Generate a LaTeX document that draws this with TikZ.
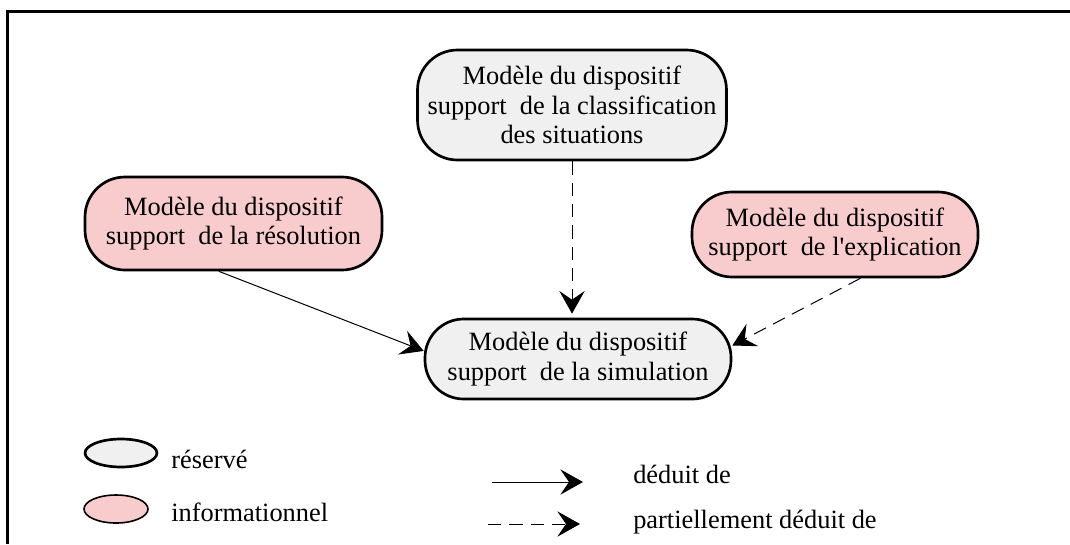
\documentclass[tikz,border=0pt]{standalone}
\usepackage{fontspec}
\setmainfont{Liberation Serif}
\usetikzlibrary{arrows.meta,shapes.geometric}
\definecolor{resgray}{RGB}{240,240,240}
\definecolor{infpink}{RGB}{248,204,204}
\newcommand{\nodefont}{\fontsize{19.8pt}{22pt}\selectfont}
\tikzset{
  box/.style={draw, line width=2pt, rounded corners=30pt, align=center, inner sep=0pt, font=\nodefont},
  resbox/.style={box, fill=resgray},
  infbox/.style={box, fill=infpink},
  arr/.style={-{Stealth[length=17pt,width=19pt,inset=6.5pt]}, line width=0.75pt},
  dasharr/.style={arr, dash pattern=on 10pt off 6pt},
  legtext/.style={anchor=base west, inner sep=0pt, font=\nodefont},
  legell/.style={ellipse, draw, inner sep=0pt}
}
\begin{document}
\begin{tikzpicture}[x=0.75pt,y=-0.75pt]
\useasboundingbox (0,0) rectangle (1070,544);
\draw[line width=2.25pt] (7,544) -- (7,11) -- (1070,11);

\node[resbox, minimum width=231.75pt, minimum height=82.5pt] (top) at (572,105)
  {Modèle du dispositif\\support~ de la classification\\des situations};
\node[infbox, minimum width=222.75pt, minimum height=69.75pt] (left) at (233.5,223.5)
  {Modèle du dispositif\\support~ de la résolution};
\node[infbox, minimum width=214.5pt, minimum height=63.75pt] (right) at (835,234.5)
  {Modèle du dispositif\\support~ de l\textquotesingle explication};
\node[resbox, rounded corners=29pt, minimum width=229.5pt, minimum height=60pt] (bot) at (578,359)
  {Modèle du dispositif\\support~ de la simulation};

\draw[arr] (left.253) -- (bot.177);
\draw[dasharr, shorten >=3pt] (top.south) -- (top.south |- bot.north);
\draw[dasharr] (right.300) -- (bot.5);

\node[legell, line width=2pt, fill=resgray, minimum width=54pt, minimum height=21pt] (lres) at (121,453) {};
\node[legell, line width=1.2pt, fill=infpink, minimum width=48pt, minimum height=21pt] (linf) at (116,509) {};
\node[legtext] (tres) at (171,468) {réservé};
\node[legtext] (tinf) at (171,521) {informationnel};

\coordinate (a1s) at (492,482);
\coordinate (a1e) at (583,482);
\coordinate (a2s) at (488,524);
\coordinate (a2e) at (580,524);
\draw[arr] (a1s) -- (a1e);
\draw[dasharr] (a2s) -- (a2e);
\node[legtext] (t1) at (633,483) {déduit de};
\node[legtext] (t2) at (633,528) {partiellement déduit de};
\end{tikzpicture}
\end{document}
